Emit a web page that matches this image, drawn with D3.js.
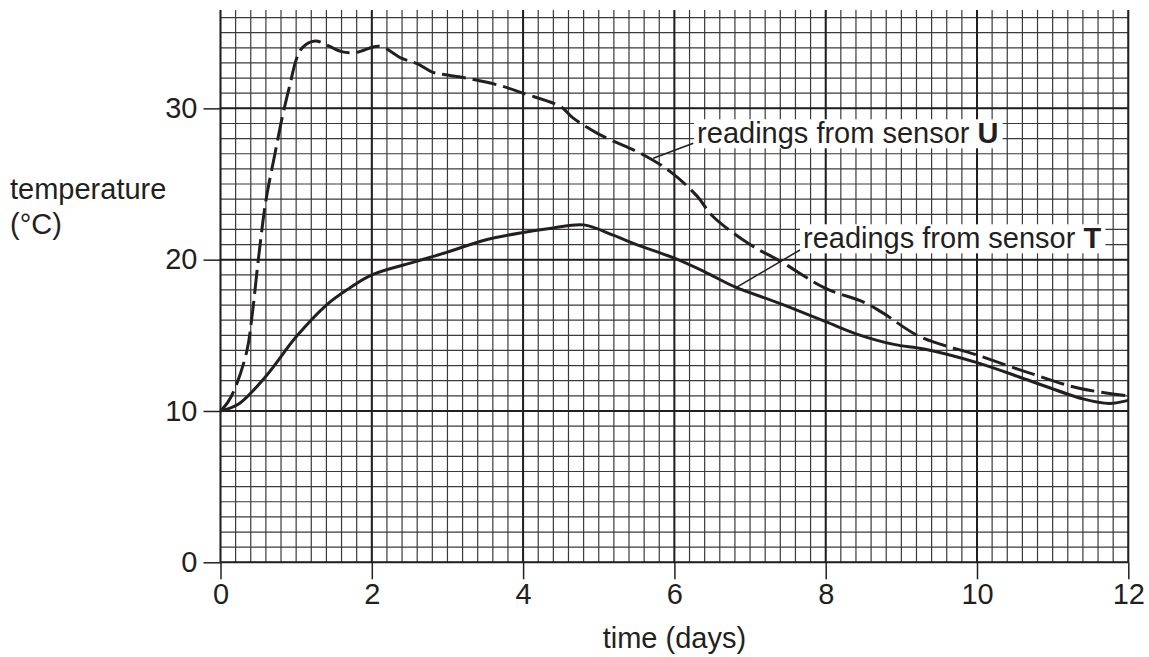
<!DOCTYPE html>
<html>
<head>
<meta charset="utf-8">
<script src="https://cdn.jsdelivr.net/npm/d3@7"></script>
<style>
  html, body { margin: 0; padding: 0; background: #fff; }
  svg { display: block; }
  text { font-family: "Liberation Sans", Arial, Helvetica, sans-serif; fill: #231f20; }
</style>
</head>
<body>
<svg id="chart" width="1149" height="657"></svg>
<script>
// ---- data ----
const xTicks = [0, 2, 4, 6, 8, 10, 12];
const yTicks = [0, 10, 20, 30];
const xLabel = "time (days)";
const yLabelLines = ["temperature", "(°C)"];

const sensorTDays = [0, 0.25, 0.6, 1.0, 1.4, 1.7, 2.0, 2.6, 3.0, 3.5, 4.0, 4.4, 4.8, 5.2, 5.5, 6.0, 6.4, 6.8, 7.4, 8.0, 8.4, 8.9, 9.3, 10.0, 10.7, 11.4, 11.75, 12.0];
const sensorTTemp = [10, 10.5, 12.3, 14.9, 17.0, 18.1, 19.0, 19.9, 20.5, 21.3, 21.8, 22.1, 22.3, 21.6, 21.0, 20.1, 19.2, 18.2, 17.1, 15.9, 15.1, 14.4, 14.1, 13.2, 12.0, 10.8, 10.5, 10.7];

const sensorUDays = [0, 0.1, 0.2, 0.35, 0.42, 0.5, 0.6, 0.72, 0.82, 0.92, 1.0, 1.08, 1.25, 1.4, 1.6, 1.8, 2.1, 2.4, 2.6, 2.8, 3.0, 3.3, 3.7, 4.0, 4.5, 4.65, 5.0, 5.6, 5.95, 6.3, 6.5, 7.0, 7.4, 8.0, 8.5, 8.75, 9.25, 10.0, 10.7, 11.35, 12.0];
const sensorUTemp = [10, 10.6, 11.6, 14.0, 16.4, 20.0, 23.9, 27.0, 29.5, 31.6, 33.2, 34.0, 34.45, 34.2, 33.75, 33.7, 34.1, 33.3, 32.95, 32.4, 32.2, 31.95, 31.5, 31.0, 30.1, 29.4, 28.3, 26.9, 25.8, 24.2, 22.9, 21.0, 19.9, 18.1, 17.2, 16.5, 14.9, 13.7, 12.5, 11.5, 11.0];

// annotations: label text, bold letter, text anchor point and leader line [curve point, label point]
const annotationTexts = ["readings from sensor ", "readings from sensor "];
const annotationBold = ["U", "T"];
const annotationTextPos = [[6.30, 27.69], [7.70, 20.75]];
const annotationLeaderFrom = [[5.72, 26.7], [6.82, 18.17]];
const annotationLeaderTo = [[6.25, 27.69], [7.66, 20.64]];

// ---- drawing ----
const svg = d3.select("#chart");
const x = d3.scaleLinear().domain([0, 12]).range([220.5, 1128.3]);
const y = d3.scaleLinear().domain([0, 36.5]).range([562.3, 10]);
const ink = "#231f20";
const fs = 29;

const grid = svg.append("g");
const vMinor = d3.range(0, 60 + 1).map(i => i * 0.2);
grid.selectAll(".vmin").data(vMinor).join("line")
  .attr("x1", d => x(d)).attr("x2", d => x(d))
  .attr("y1", y(0)).attr("y2", y(36.5))
  .attr("stroke", "#3a3a3a").attr("stroke-width", 1.2);
const hMinor = d3.range(0, 37);
grid.selectAll(".hmin").data(hMinor).join("line")
  .attr("x1", x(0)).attr("x2", x(12))
  .attr("y1", d => y(d)).attr("y2", d => y(d))
  .attr("stroke", "#3a3a3a").attr("stroke-width", 1.2);
grid.selectAll(".vmaj").data(xTicks).join("line")
  .attr("x1", d => x(d)).attr("x2", d => x(d))
  .attr("y1", y(0)).attr("y2", y(36.5))
  .attr("stroke", ink).attr("stroke-width", 2);
grid.selectAll(".hmaj").data(yTicks).join("line")
  .attr("x1", x(0)).attr("x2", x(12))
  .attr("y1", d => y(d)).attr("y2", d => y(d))
  .attr("stroke", ink).attr("stroke-width", 2);

// axes
const xAxis = d3.axisBottom(x).tickValues(xTicks).tickSize(17).tickPadding(4).tickFormat(d3.format("d"));
const gx = svg.append("g").attr("transform", `translate(0,${y(0)})`).call(xAxis);
gx.select(".domain").remove();
gx.selectAll("line").attr("stroke", ink).attr("stroke-width", 1.5);
gx.selectAll("text").attr("font-size", fs).attr("font-family", null).style("fill", ink);

const yAxis = d3.axisLeft(y).tickValues(yTicks).tickSize(17).tickPadding(6).tickFormat(d3.format("d"));
const gy = svg.append("g").attr("transform", `translate(${x(0)},0)`).call(yAxis);
gy.select(".domain").remove();
gy.selectAll("line").attr("stroke", ink).attr("stroke-width", 1.5);
gy.selectAll("text").attr("font-size", fs).attr("font-family", null).style("fill", ink);

// axis labels
svg.append("text").attr("x", x(6)).attr("y", 648).attr("text-anchor", "middle")
  .attr("font-size", fs).text(xLabel);
svg.append("text").attr("x", 10).attr("font-size", fs)
  .selectAll("tspan").data(yLabelLines).join("tspan")
  .attr("x", 10).attr("y", (d, i) => 199 + i * 35).text(d => d);

// curves
const line = d3.line().x(d => x(d[0])).y(d => y(d[1])).curve(d3.curveCatmullRom.alpha(0.5));
const tData = sensorTDays.map((d, i) => [d, sensorTTemp[i]]);
const uData = sensorUDays.map((d, i) => [d, sensorUTemp[i]]);
svg.append("path").datum(tData).attr("d", line)
  .attr("fill", "none").attr("stroke", ink).attr("stroke-width", 3);
svg.append("path").datum(uData).attr("d", line)
  .attr("fill", "none").attr("stroke", ink).attr("stroke-width", 3)
  .attr("stroke-dasharray", "24,7");

// annotations
annotationTexts.forEach((t, i) => {
  const g = svg.append("g");
  const bg = g.append("rect").attr("fill", "#fff");
  const txt = g.append("text")
    .attr("x", x(annotationTextPos[i][0])).attr("y", y(annotationTextPos[i][1]))
    .attr("font-size", fs);
  txt.append("tspan").text(t);
  txt.append("tspan").attr("font-weight", "bold").text(annotationBold[i]);
  const bb = txt.node().getBBox();
  bg.attr("x", bb.x - 3).attr("y", bb.y + 2).attr("width", bb.width + 7).attr("height", bb.height - 3);
  svg.append("line")
    .attr("x1", x(annotationLeaderFrom[i][0])).attr("y1", y(annotationLeaderFrom[i][1]))
    .attr("x2", x(annotationLeaderTo[i][0])).attr("y2", y(annotationLeaderTo[i][1]))
    .attr("stroke", ink).attr("stroke-width", 1.5);
});
</script>
</body>
</html>
